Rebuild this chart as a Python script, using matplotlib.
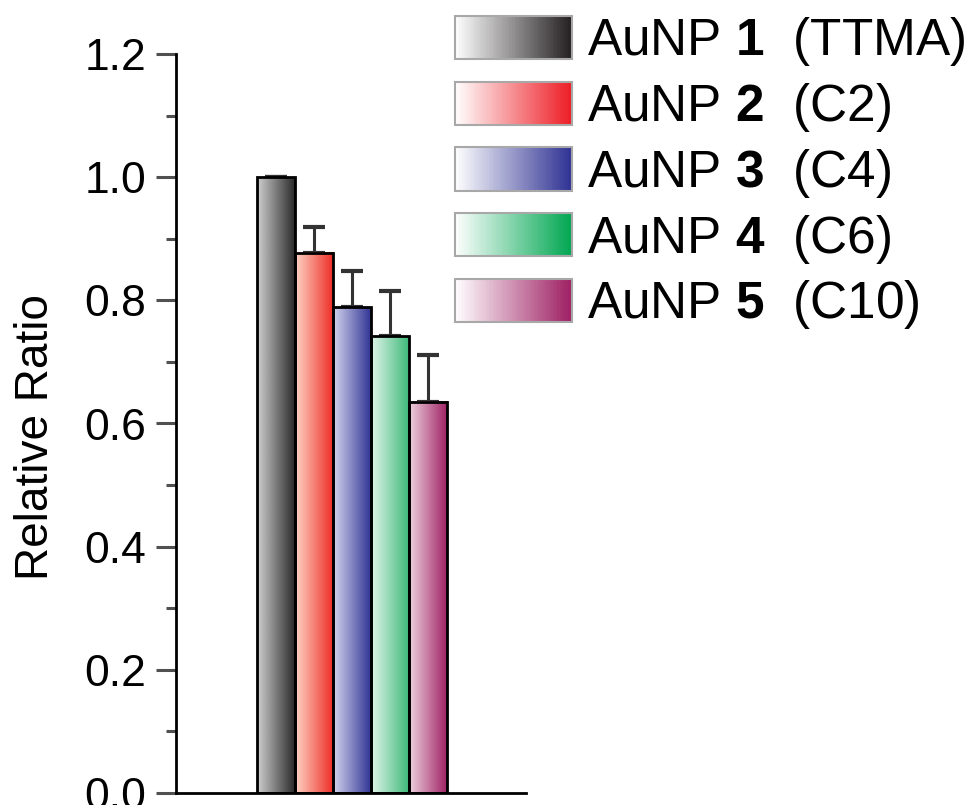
import numpy as np
import matplotlib
matplotlib.use("Agg")
import matplotlib.pyplot as plt
from matplotlib import font_manager as fm
from matplotlib.colors import LinearSegmentedColormap
from matplotlib.patches import Rectangle, Patch
from matplotlib.legend_handler import HandlerBase

# ---------------- data ----------------
names = ["AuNP 1", "AuNP 2", "AuNP 3", "AuNP 4", "AuNP 5"]
numbers = ["1", "2", "3", "4", "5"]
ligands = ["(TTMA)", "(C2)", "(C4)", "(C6)", "(C10)"]
values = [1.0, 0.877, 0.789, 0.742, 0.635]
errors = [0.0, 0.042, 0.058, 0.073, 0.076]
bar_light = ["#d0d0d0", "#fdd5c5", "#d4d4ee", "#e2f5ea", "#eed2de"]
bar_dark = ["#262626", "#ee2a24", "#2e3192", "#3ab877", "#9e1f63"]
legend_dark = ["#231f20", "#ed1c24", "#2e3192", "#00a651", "#9e1f63"]
yticks = [0.0, 0.2, 0.4, 0.6, 0.8, 1.0, 1.2]
ytick_labels = ["0.0", "0.2", "0.4", "0.6", "0.8", "1.0", "1.2"]
ylabel = "Relative Ratio"

# ---------------- fonts ----------------
available = {f.name for f in fm.fontManager.ttflist}
narrow = "Liberation Sans Narrow" if "Liberation Sans Narrow" in available else "Liberation Sans"
plt.rcParams["font.family"] = ["Liberation Sans", "DejaVu Sans"]
plt.rcParams["mathtext.fontset"] = "custom"
plt.rcParams["mathtext.rm"] = narrow
plt.rcParams["mathtext.bf"] = narrow + ":bold"

fig = plt.figure(figsize=(9.67, 8.05), dpi=100)
ax = fig.add_axes([176 / 967, 12 / 805, 350 / 967, 739 / 805])

x = np.arange(len(values))
bars = ax.bar(x, values, width=1.0, facecolor="none", edgecolor="black",
              linewidth=2.0, zorder=3)

grad = np.linspace(0, 1, 256).reshape(1, -1)
for b, lo, hi in zip(bars, bar_light, bar_dark):
    cmap = LinearSegmentedColormap.from_list("g", [lo, hi])
    x0, w, h = b.get_x(), b.get_width(), b.get_height()
    ax.imshow(grad, extent=[x0, x0 + w, 0, h], aspect="auto", cmap=cmap,
              interpolation="bilinear", zorder=2)

ax.errorbar(x, values, yerr=[np.zeros(len(values)), errors], fmt="none",
            ecolor="#333333", elinewidth=2.2, capsize=8, capthick=3, zorder=1)

ax.set_xlim(-2.63, 6.58)
ax.set_ylim(0, 1.2)
ax.set_yticks(yticks)
ax.set_yticklabels(ytick_labels)
ax.set_yticks(np.arange(0.1, 1.2, 0.2), minor=True)
ax.set_xticks([])
ax.tick_params(axis="y", which="major", direction="out", length=14.4, width=2.2,
               color="#505050", labelsize=32, pad=7)
ax.tick_params(axis="y", which="minor", direction="out", length=7.2, width=2.2,
               color="#505050")
for s in ["top", "right"]:
    ax.spines[s].set_visible(False)
for s in ["left", "bottom"]:
    ax.spines[s].set_linewidth(2.0)
    ax.spines[s].set_color("black")

ax.set_ylabel(ylabel, fontsize=33, family=[narrow, "DejaVu Sans"])
ax.yaxis.set_label_coords(-0.337, 0.481)


class GradientHandler(HandlerBase):
    def __init__(self, cmap):
        super().__init__()
        self.cmap = cmap

    def create_artists(self, legend, orig_handle, xdescent, ydescent, width,
                       height, fontsize, trans):
        n = 80
        x0, y0 = -xdescent, -ydescent
        arts = []
        for i in range(n):
            arts.append(Rectangle((x0 + i * width / n, y0), width / n * 1.1, height,
                                  facecolor=self.cmap((i + 0.5) / n),
                                  edgecolor="none", transform=trans))
        arts.append(Rectangle((x0, y0), width, height, fill=False,
                              edgecolor="#a8a8a8", linewidth=1.5, transform=trans))
        return arts


handles, hmap, labels = [], {}, []
for nm, num, lig, dk in zip(names, numbers, ligands, legend_dark):
    h = Patch(facecolor=dk)
    handles.append(h)
    hmap[h] = GradientHandler(LinearSegmentedColormap.from_list("l", ["white", dk]))
    base = nm.rsplit(" ", 1)[0]
    labels.append(base + " $\\mathbf{" + num + "}$  " + lig)

fs = 37
fs_px = fs * 100 / 72
leg = fig.legend(handles, labels, handler_map=hmap, loc="upper left",
                 bbox_to_anchor=(455 / 967, 1 - 15 / 805), frameon=False,
                 prop={"family": [narrow, "DejaVu Sans"], "size": fs},
                 handlelength=117 / fs_px, handleheight=47 / fs_px,
                 handletextpad=15 / fs_px, labelspacing=0.25, borderpad=0,
                 borderaxespad=0)

fig.savefig("out.png", dpi=100)
